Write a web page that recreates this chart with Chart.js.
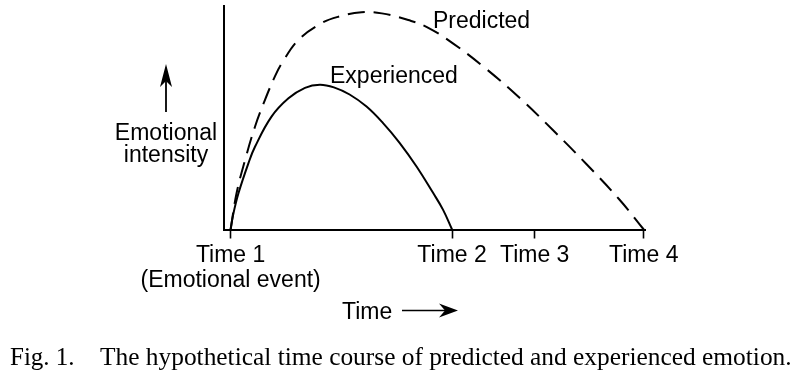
<!DOCTYPE html>
<html>
<head>
<meta charset="utf-8">
<script src="https://cdn.jsdelivr.net/npm/chart.js@4.4.1/dist/chart.umd.min.js"></script>
<style>
  html, body { margin: 0; padding: 0; background: #fff; }
  canvas { display: block; }
</style>
</head>
<body>
<canvas id="myChart" width="798" height="381"></canvas>
<script>
// Time axis: Time 1 = 0, Time 4 = 100 (arbitrary units)
const tickValues = [0, 53.6, 73.6, 100];
const tickLabels = [["Time 1", "(Emotional event)"], "Time 2", "Time 3", "Time 4"];

// Experienced emotion (solid)
const experiencedX = [0, 0.6, 1.9, 4.3, 5.9, 9.9, 14.0, 18.0, 21.6, 25.0, 28.8, 32.9, 36.9, 40.9, 45.0, 49.0, 51.4, 53.6];
const experiencedY = [0, 6.5, 16.2, 29.6, 37.0, 50.5, 58.7, 63.4, 64.8, 63.6, 60.4, 55.0, 47.6, 38.8, 28.2, 16.4, 8.9, 0];

// Predicted emotion (dashed)
const predictedX = [0, 1.45, 3.5, 5.9, 8.3, 10.7, 12.4, 16.4, 22.0, 26.1, 31.7, 36.6, 43.0, 47.4, 53.8, 61.9, 70.0, 78.0, 86.1, 94.2, 100];
const predictedY = [0, 16.3, 31.1, 46.0, 57.9, 68.4, 74.4, 84.8, 92.3, 95.2, 97.2, 96.7, 93.7, 90.7, 83.3, 71.8, 58.8, 44.5, 29.3, 13.2, 0];

const sans = '"Liberation Sans", Arial, Helvetica, sans-serif';
const serif = '"Liberation Serif", "Times New Roman", serif';
Chart.defaults.font.family = sans;
Chart.defaults.color = "#000";

const toPoints = (xs, ys) => xs.map((x, i) => ({ x: x, y: ys[i] }));

// text and arrows around the plot
const annotations = {
  id: "annotations",
  afterDraw(chart) {
    const ctx = chart.ctx;
    ctx.save();
    ctx.fillStyle = "#000";
    ctx.strokeStyle = "#000";
    ctx.font = "23px " + sans;
    ctx.textBaseline = "alphabetic";

    // curve labels
    ctx.textAlign = "left";
    ctx.fillText(chart.data.datasets[1].label, 433, 28);
    ctx.fillText(chart.data.datasets[0].label, 330, 83);

    // y axis label with up arrow
    ctx.textAlign = "center";
    ctx.fillText("Emotional", 166, 140);
    ctx.fillText("intensity", 166, 162);
    ctx.lineWidth = 1.8;
    ctx.beginPath();
    ctx.moveTo(166, 112);
    ctx.lineTo(166, 78);
    ctx.stroke();
    ctx.beginPath();
    ctx.moveTo(166, 64);
    ctx.lineTo(172, 87);
    ctx.lineTo(166, 81);
    ctx.lineTo(160, 87);
    ctx.closePath();
    ctx.fill();

    // x axis title with right arrow
    ctx.textAlign = "left";
    ctx.fillText("Time", 342, 319);
    ctx.lineWidth = 1.6;
    ctx.beginPath();
    ctx.moveTo(402, 310.5);
    ctx.lineTo(446, 310.5);
    ctx.stroke();
    ctx.beginPath();
    ctx.moveTo(458, 310.5);
    ctx.lineTo(439, 303.5);
    ctx.lineTo(445, 310.5);
    ctx.lineTo(439, 317.5);
    ctx.closePath();
    ctx.fill();

    // caption
    ctx.font = "25px " + serif;
    ctx.fillText("Fig. 1.", 10, 365);
    ctx.font = "25.4px " + serif;
    ctx.fillText("The hypothetical time course of predicted and experienced emotion.", 100, 365);
    ctx.restore();
  }
};

const ctx = document.getElementById("myChart").getContext("2d");

new Chart(ctx, {
  type: "line",
  data: {
    datasets: [
      {
        label: "Experienced",
        data: toPoints(experiencedX, experiencedY),
        borderColor: "#000",
        borderWidth: 2,
        pointRadius: 0,
        tension: 0.4,
        fill: false,
        clip: false
      },
      {
        label: "Predicted",
        data: toPoints(predictedX, predictedY),
        borderColor: "#000",
        borderWidth: 2,
        borderDash: [17, 9],
        pointRadius: 0,
        tension: 0.4,
        fill: false,
        clip: false
      }
    ]
  },
  options: {
    responsive: false,
    animation: false,
    layout: { padding: { left: 224, right: 153, top: 6, bottom: 0 } },
    plugins: {
      legend: { display: false },
      tooltip: { enabled: false }
    },
    scales: {
      x: {
        type: "linear",
        min: -1.6,
        max: 100.3,
        afterBuildTicks: s => { s.ticks = tickValues.map(v => ({ value: v })); },
        afterFit: s => { s.height = 151.5; },
        ticks: {
          autoSkip: false,
          maxRotation: 0,
          padding: 4,
          color: "#000",
          font: { size: 23, lineHeight: 1.12 },
          callback: v => tickLabels[tickValues.indexOf(v)]
        },
        grid: {
          drawOnChartArea: false,
          drawTicks: true,
          tickLength: 9,
          tickColor: "#000",
          tickWidth: 1.6
        },
        border: { display: true, color: "#000", width: 2 }
      },
      y: {
        min: 0,
        max: 100,
        afterFit: s => { s.width = 0; },
        ticks: { display: false },
        grid: { drawOnChartArea: false, drawTicks: false },
        border: { display: true, color: "#000", width: 2 }
      }
    }
  },
  plugins: [annotations]
});
</script>
</body>
</html>
